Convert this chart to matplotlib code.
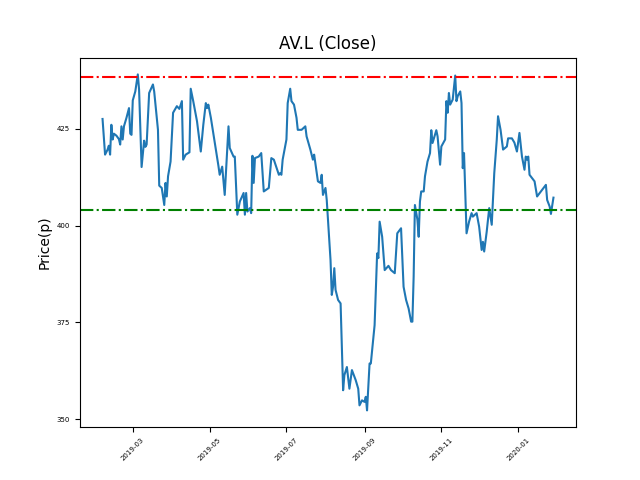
import matplotlib
matplotlib.use("Agg")
import matplotlib.pyplot as plt
import matplotlib.dates as mdates
from matplotlib.ticker import MultipleLocator
import pandas as pd

ticker = "AV.L"

dates = [
    "2019-02-05", "2019-02-07", "2019-02-09", "2019-02-10", "2019-02-11", "2019-02-12",
    "2019-02-13", "2019-02-14", "2019-02-16", "2019-02-18", "2019-02-19", "2019-02-20",
    "2019-02-21", "2019-02-22", "2019-02-24", "2019-02-26", "2019-02-27", "2019-02-28",
    "2019-03-01", "2019-03-03", "2019-03-05", "2019-03-06", "2019-03-08", "2019-03-10",
    "2019-03-11", "2019-03-12", "2019-03-14", "2019-03-17", "2019-03-18", "2019-03-21",
    "2019-03-22", "2019-03-24", "2019-03-26", "2019-03-27", "2019-03-28", "2019-03-29",
    "2019-03-31", "2019-04-02", "2019-04-05", "2019-04-07", "2019-04-09", "2019-04-10",
    "2019-04-12", "2019-04-15", "2019-04-16", "2019-04-18", "2019-04-21", "2019-04-24",
    "2019-04-26", "2019-04-28", "2019-04-29", "2019-04-30", "2019-05-02", "2019-05-08",
    "2019-05-09", "2019-05-11", "2019-05-13", "2019-05-16", "2019-05-17", "2019-05-20",
    "2019-05-21", "2019-05-23", "2019-05-25", "2019-05-28", "2019-05-29", "2019-05-30",
    "2019-05-31", "2019-06-02", "2019-06-03", "2019-06-04", "2019-06-05", "2019-06-06",
    "2019-06-09", "2019-06-11", "2019-06-13", "2019-06-17", "2019-06-19", "2019-06-21",
    "2019-06-25", "2019-06-26", "2019-06-27", "2019-06-28", "2019-07-01", "2019-07-02",
    "2019-07-04", "2019-07-05", "2019-07-07", "2019-07-09", "2019-07-10", "2019-07-13",
    "2019-07-16", "2019-07-17", "2019-07-20", "2019-07-22", "2019-07-23", "2019-07-26",
    "2019-07-28", "2019-07-29", "2019-07-30", "2019-08-01", "2019-08-02", "2019-08-03",
    "2019-08-05", "2019-08-06", "2019-08-07", "2019-08-08", "2019-08-09", "2019-08-11",
    "2019-08-13", "2019-08-15", "2019-08-16", "2019-08-18", "2019-08-20", "2019-08-22",
    "2019-08-25", "2019-08-27", "2019-08-28", "2019-08-30", "2019-09-01", "2019-09-02",
    "2019-09-03", "2019-09-05", "2019-09-06", "2019-09-09", "2019-09-11", "2019-09-12",
    "2019-09-13", "2019-09-15", "2019-09-17", "2019-09-20", "2019-09-22", "2019-09-25",
    "2019-09-27", "2019-09-30", "2019-10-02", "2019-10-04", "2019-10-06", "2019-10-08",
    "2019-10-09", "2019-10-10", "2019-10-11", "2019-10-13", "2019-10-14", "2019-10-15",
    "2019-10-16", "2019-10-18", "2019-10-19", "2019-10-21", "2019-10-23", "2019-10-24",
    "2019-10-25", "2019-10-28", "2019-10-29", "2019-10-31", "2019-11-01", "2019-11-04",
    "2019-11-05", "2019-11-06", "2019-11-07", "2019-11-08", "2019-11-10", "2019-11-12",
    "2019-11-13", "2019-11-14", "2019-11-16", "2019-11-17", "2019-11-18", "2019-11-19",
    "2019-11-21", "2019-11-23", "2019-11-25", "2019-11-26", "2019-11-29", "2019-12-01",
    "2019-12-03", "2019-12-04", "2019-12-05", "2019-12-07", "2019-12-09", "2019-12-11",
    "2019-12-13", "2019-12-15", "2019-12-16", "2019-12-18", "2019-12-20", "2019-12-23",
    "2019-12-24", "2019-12-27", "2019-12-29", "2019-12-31", "2020-01-02", "2020-01-04",
    "2020-01-06", "2020-01-07", "2020-01-08", "2020-01-09", "2020-01-10", "2020-01-14",
    "2020-01-16", "2020-01-19", "2020-01-23", "2020-01-24", "2020-01-26", "2020-01-27",
    "2020-01-29",
]

close = [
    427.5, 418.3, 419.6, 420.6, 418.3, 426.0,
    422.2, 423.7, 423.2, 422.3, 420.9, 425.6,
    422.2, 425.6, 427.8, 430.3, 423.7, 423.4,
    432.3, 434.6, 439.0, 435.1, 415.1, 421.9,
    420.3, 420.9, 434.2, 436.4, 434.6, 424.7,
    410.3, 409.7, 405.3, 411.0, 407.5, 412.7,
    416.5, 429.1, 430.8, 430.1, 432.1, 417.0,
    418.3, 418.9, 435.3, 432.1, 426.9, 419.1,
    426.0, 431.6, 430.3, 431.2, 427.8, 415.4,
    413.1, 415.2, 407.9, 425.6, 420.0, 417.8,
    417.8, 402.8, 406.2, 408.4, 402.8, 408.4,
    403.6, 404.5, 403.2, 418.0, 411.0, 417.4,
    417.8, 418.7, 408.8, 409.7, 417.4, 417.0,
    413.1, 413.5, 413.1, 417.0, 422.2, 431.6,
    435.3, 432.1, 431.2, 427.8, 424.7, 424.7,
    425.6, 423.0, 419.6, 417.0, 418.3, 411.4,
    411.0, 413.1, 407.9, 409.7, 406.6, 401.5,
    391.1, 382.1, 384.2, 389.0, 383.4, 380.8,
    379.9, 357.5, 361.4, 363.5, 357.9, 362.7,
    360.1, 357.9, 353.6, 354.9, 354.5, 355.8,
    352.3, 364.4, 364.4, 374.3, 392.8, 391.6,
    401.0, 397.1, 388.5, 389.6, 388.5, 387.7,
    398.0, 399.3, 384.2, 380.8, 378.6, 375.2,
    375.2, 386.8, 405.3, 401.5, 397.1, 406.2,
    408.8, 408.8, 412.7, 416.5, 418.7, 424.6,
    421.3, 424.6, 423.0, 415.7, 420.4, 422.2,
    432.1, 429.1, 434.2, 431.2, 432.5, 438.7,
    432.1, 433.4, 434.6, 431.6, 414.8, 418.7,
    398.0, 401.0, 403.2, 402.3, 403.2, 399.7,
    393.7, 395.8, 393.3, 398.4, 404.5, 400.2,
    413.5, 422.2, 428.2, 424.7, 419.6, 420.4,
    422.5, 422.5, 421.4, 419.1, 423.9, 417.8,
    414.4, 417.8, 417.0, 417.8, 413.1, 411.4,
    407.5, 408.8, 410.5, 406.6, 404.9, 403.0,
    407.2,
]

resistance = 438.4
support = 404.0

dates = pd.to_datetime(dates)

fig, ax = plt.subplots(figsize=(6.4, 4.8), dpi=100)
ax.plot(dates, close, color="#1f77b4", linewidth=1.5)
ax.axhline(resistance, color="r", linestyle="-.")
ax.axhline(support, color="g", linestyle="-.")

ax.set_title(ticker + " (Close)")
ax.set_ylabel("Price(p)")
ax.yaxis.set_major_locator(MultipleLocator(25))
ax.xaxis.set_major_locator(mdates.MonthLocator(bymonth=[1, 3, 5, 7, 9, 11]))
ax.xaxis.set_major_formatter(mdates.DateFormatter("%Y-%m"))
plt.xticks(rotation=45, fontsize=5)
plt.yticks(fontsize=5)

fig.savefig("out.png")
